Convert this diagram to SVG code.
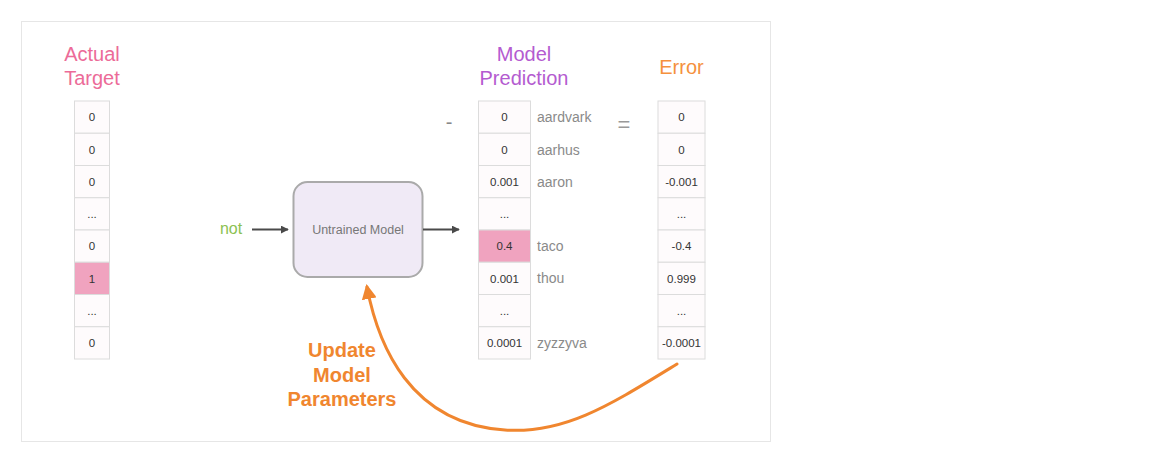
<svg xmlns="http://www.w3.org/2000/svg" width="1164" height="472" viewBox="0 0 1164 472">
<style>
.cell{fill:#fefbfc;stroke:#dcdcdc;stroke-width:1}
.hot{fill:#f0a3bf;stroke:#dcdcdc;stroke-width:1}
.v{font-family:"Liberation Sans",Arial,sans-serif;font-size:11.5px;fill:#333;text-anchor:middle}
.w{font-family:"Liberation Sans",Arial,sans-serif;font-size:14px;fill:#8a8a8a}
.t{font-family:"Liberation Sans",Arial,sans-serif;font-size:20px;text-anchor:middle}
.u{font-family:"Liberation Sans",Arial,sans-serif;font-size:20px;font-weight:bold;fill:#f0862f;text-anchor:middle}
.conn{stroke:#4a4a4a;stroke-width:2;fill:none}
</style>
<defs>
<marker id="ah" viewBox="0 0 10 10" refX="9" refY="5" markerWidth="4" markerHeight="4" orient="auto" markerUnits="strokeWidth">
<path d="M0,0 L10,5 L0,10 z" fill="#4a4a4a"/>
</marker>
<marker id="oh" viewBox="0 0 10 10" refX="8" refY="5" markerWidth="5" markerHeight="5" orient="auto" markerUnits="strokeWidth">
<path d="M0,0 L10,5 L0,10 z" fill="#f0862f"/>
</marker>
</defs>
<rect width="1164" height="472" fill="#ffffff"/>
<rect x="21.5" y="21.5" width="749" height="420" fill="#ffffff" stroke="#e6e6e6" stroke-width="1"/>

<g id="actual-target">
<text class="t" x="92" y="61" fill="#ec6b98">Actual</text>
<text class="t" x="92" y="85" fill="#ec6b98">Target</text>
<rect class="cell" x="74.5" y="101" width="35" height="32.25"/>
<rect class="cell" x="74.5" y="133.25" width="35" height="32.25"/>
<rect class="cell" x="74.5" y="165.5" width="35" height="32.25"/>
<rect class="cell" x="74.5" y="197.75" width="35" height="32.25"/>
<rect class="cell" x="74.5" y="230" width="35" height="32.25"/>
<rect class="hot" x="74.5" y="262.25" width="35" height="32.25"/>
<rect class="cell" x="74.5" y="294.5" width="35" height="32.25"/>
<rect class="cell" x="74.5" y="326.75" width="35" height="32.25"/>
<text class="v" x="92" y="121">0</text>
<text class="v" x="92" y="153.5">0</text>
<text class="v" x="92" y="185.5">0</text>
<text class="v" x="92" y="217.5" fill="#999">...</text>
<text class="v" x="92" y="250">0</text>
<text class="v" x="92" y="282.5">1</text>
<text class="v" x="92" y="314.5" fill="#999">...</text>
<text class="v" x="92" y="347">0</text>
</g>

<g id="input">
<text x="231" y="234" font-family="'Liberation Sans',Arial,sans-serif" font-size="16" fill="#8cc152" text-anchor="middle">not</text>
</g>

<g id="model">
<rect x="293.5" y="182" width="129" height="95" rx="14" ry="14" fill="#f0eaf6" stroke="#aaaaaa" stroke-width="2"/>
<text x="358" y="233.5" font-family="'Liberation Sans',Arial,sans-serif" font-size="12.5" fill="#777" text-anchor="middle">Untrained Model</text>
</g>

<g id="model-prediction">
<text class="t" x="524" y="61" fill="#b45bd0">Model</text>
<text class="t" x="524" y="85" fill="#b45bd0">Prediction</text>
<text x="449" y="129" font-family="'Liberation Sans',Arial,sans-serif" font-size="20" fill="#888" text-anchor="middle">-</text>
<rect class="cell" x="478.5" y="101" width="52" height="32.25"/>
<rect class="cell" x="478.5" y="133.25" width="52" height="32.25"/>
<rect class="cell" x="478.5" y="165.5" width="52" height="32.25"/>
<rect class="cell" x="478.5" y="197.75" width="52" height="32.25"/>
<rect class="hot" x="478.5" y="230" width="52" height="32.25"/>
<rect class="cell" x="478.5" y="262.25" width="52" height="32.25"/>
<rect class="cell" x="478.5" y="294.5" width="52" height="32.25"/>
<rect class="cell" x="478.5" y="326.75" width="52" height="32.25"/>
<text class="v" x="504.5" y="121">0</text>
<text class="v" x="504.5" y="153.5">0</text>
<text class="v" x="504.5" y="185.5">0.001</text>
<text class="v" x="504.5" y="217.5" fill="#999">...</text>
<text class="v" x="504.5" y="250">0.4</text>
<text class="v" x="504.5" y="282.5">0.001</text>
<text class="v" x="504.5" y="314.5" fill="#999">...</text>
<text class="v" x="504.5" y="347">0.0001</text>
<text class="w" x="537" y="122">aardvark</text>
<text class="w" x="537" y="154.5">aarhus</text>
<text class="w" x="537" y="186.5">aaron</text>
<text class="w" x="537" y="251">taco</text>
<text class="w" x="537" y="283">thou</text>
<text class="w" x="537" y="348">zyzzyva</text>
</g>

<g id="error">
<text x="624" y="132" font-family="'Liberation Sans',Arial,sans-serif" font-size="22" fill="#999" text-anchor="middle">=</text>
<text class="t" x="681.5" y="74" fill="#f5913d">Error</text>
<rect class="cell" x="658" y="101" width="47" height="32.25"/>
<rect class="cell" x="658" y="133.25" width="47" height="32.25"/>
<rect class="cell" x="658" y="165.5" width="47" height="32.25"/>
<rect class="cell" x="658" y="197.75" width="47" height="32.25"/>
<rect class="cell" x="658" y="230" width="47" height="32.25"/>
<rect class="cell" x="658" y="262.25" width="47" height="32.25"/>
<rect class="cell" x="658" y="294.5" width="47" height="32.25"/>
<rect class="cell" x="658" y="326.75" width="47" height="32.25"/>
<text class="v" x="681.5" y="121">0</text>
<text class="v" x="681.5" y="153.5">0</text>
<text class="v" x="681.5" y="185.5">-0.001</text>
<text class="v" x="681.5" y="217.5" fill="#999">...</text>
<text class="v" x="681.5" y="250">-0.4</text>
<text class="v" x="681.5" y="282.5">0.999</text>
<text class="v" x="681.5" y="314.5" fill="#999">...</text>
<text class="v" x="681.5" y="347">-0.0001</text>
</g>

<g id="update-label">
<text class="u" x="342" y="357">Update</text>
<text class="u" x="342" y="381.5">Model</text>
<text class="u" x="342" y="406">Parameters</text>
</g>

<g id="connectors">
<line class="conn" x1="252" y1="229.5" x2="288" y2="229.5" marker-end="url(#ah)"/>
<line class="conn" x1="423" y1="229.5" x2="459" y2="229.5" marker-end="url(#ah)"/>
<path d="M677 364 C610 405 565 434 505 430 C410 424 378 345 367 287" fill="none" stroke="#f0862f" stroke-width="3" stroke-linecap="round" marker-end="url(#oh)"/>
</g>
</svg>
